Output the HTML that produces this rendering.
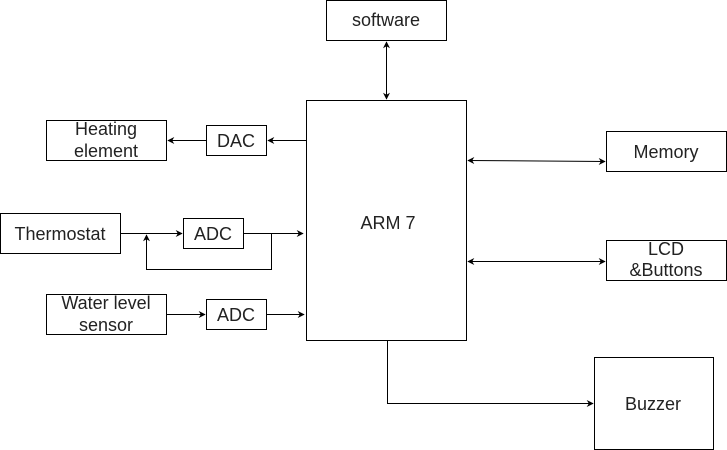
<!DOCTYPE html>
<html><head><meta charset="utf-8"><style>
html,body{margin:0;padding:0;background:#fff;}
svg{display:block;}
text{font-family:"Liberation Sans",Arial,sans-serif;font-size:18px;fill:#222;}
</style></head><body>
<svg width="727" height="450" viewBox="0 0 727 450" xmlns="http://www.w3.org/2000/svg">
<defs>
<marker id="a" viewBox="0 0 10 10" refX="9" refY="5" markerWidth="7" markerHeight="7" orient="auto-start-reverse" markerUnits="userSpaceOnUse">
<path d="M0,0 L10,5 L0,10 L3,5 z" fill="#000"/>
</marker>
</defs>
<g fill="#fff" stroke="#000" stroke-width="1">
<rect x="326.5" y="0.5" width="120" height="40"/>
<rect x="306.5" y="100.5" width="160" height="240"/>
<rect x="46.5" y="120.5" width="120" height="40"/>
<rect x="206.5" y="125.5" width="60" height="30"/>
<rect x="0.5" y="213.5" width="120" height="40"/>
<rect x="183.5" y="218.5" width="60" height="30"/>
<rect x="46.5" y="294.5" width="120" height="40"/>
<rect x="206.5" y="299.5" width="60" height="30"/>
<rect x="606.5" y="131.5" width="120" height="40"/>
<rect x="606.5" y="240.5" width="120" height="40"/>
<rect x="594.5" y="357.5" width="119" height="92"/>
</g>
<g fill="none" stroke="#000" stroke-width="1">
<line x1="386.5" y1="42" x2="386.5" y2="99" marker-start="url(#a)" marker-end="url(#a)"/>
<line x1="306" y1="140.5" x2="268" y2="140.5" marker-end="url(#a)"/>
<line x1="206" y1="140.5" x2="168" y2="140.5" marker-end="url(#a)"/>
<line x1="121" y1="233.5" x2="182" y2="233.5" marker-end="url(#a)"/>
<line x1="244" y1="233.5" x2="303" y2="233.5" marker-end="url(#a)"/>
<polyline points="271.5,233.5 271.5,269.5 146.5,269.5 146.5,235" marker-end="url(#a)"/>
<line x1="167" y1="314.5" x2="205" y2="314.5" marker-end="url(#a)"/>
<line x1="267" y1="314.5" x2="304" y2="314.5" marker-end="url(#a)"/>
<line x1="468" y1="160.5" x2="605" y2="161.5" marker-start="url(#a)" marker-end="url(#a)"/>
<line x1="468" y1="261.5" x2="605" y2="261.5" marker-start="url(#a)" marker-end="url(#a)"/>
<polyline points="387.5,341 387.5,403.5 593,403.5" marker-end="url(#a)"/>
</g>
<g text-anchor="middle">
<text x="386" y="26">software</text>
<text x="388" y="229">ARM 7</text>
<text x="106" y="135">Heating</text>
<text x="106" y="157">element</text>
<text x="236" y="147">DAC</text>
<text x="60" y="240">Thermostat</text>
<text x="213" y="240">ADC</text>
<text x="106" y="309">Water level</text>
<text x="106" y="331">sensor</text>
<text x="236" y="321">ADC</text>
<text x="666" y="158">Memory</text>
<text x="666" y="255">LCD</text>
<text x="666" y="276">&amp;Buttons</text>
<text x="653" y="410">Buzzer</text>
</g>
</svg>
</body></html>
